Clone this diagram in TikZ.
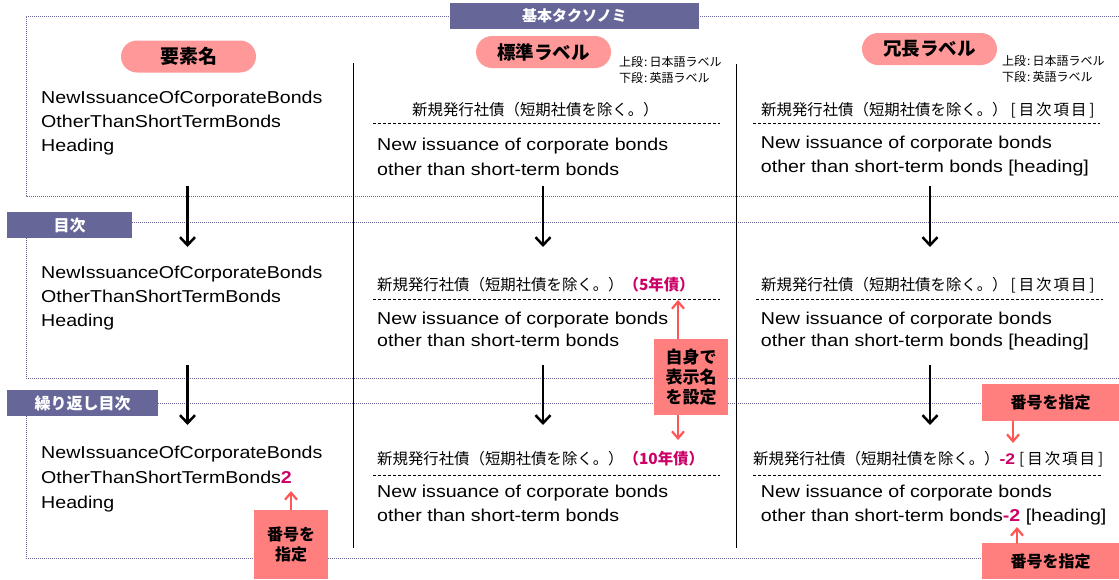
\documentclass[tikz,border=0pt]{standalone}
\usepackage{fontspec}
\setmainfont{Liberation Sans}[FakeStretch=1.14]
\newfontfamily\jpfont{Noto Sans CJK JP}
\usepackage{xcolor}
\usetikzlibrary{arrows.meta, positioning}

\definecolor{hdrblue}{HTML}{666699}
\definecolor{pillpink}{HTML}{FF9999}
\definecolor{calloutred}{HTML}{FF7F7F}
\definecolor{callarrow}{HTML}{FF5555}
\definecolor{accent}{HTML}{CC0066}

\newcommand{\accnum}[1]{{\normalfont\bfseries\color{accent}#1}}
\newcommand{\tocitem}{[\kern3pt 目\kern2pt 次\kern2pt 項\kern2pt 目\kern3pt]}

\begin{document}
\begin{tikzpicture}[x=1pt, y=-1pt,
    sechead/.style={fill=hdrblue, text=white, inner sep=0pt, minimum height=26pt,
                    font={\jpfont\bfseries\fontsize{16}{18}\selectfont}},
    pill/.style={fill=pillpink, rounded corners=16pt, inner sep=0pt,
                 minimum width=135pt, minimum height=32pt,
                 font={\jpfont\bfseries\fontsize{18.5}{20}\selectfont}},
    entxt/.style={anchor=base west, align=left, inner sep=0pt,
                  font={\fontsize{17.2}{24.3}\selectfont}},
    jptxt/.style={anchor=base west, inner sep=0pt,
                  font={\jpfont\fontsize{15.4}{18}\selectfont}},
    note/.style={anchor=base west, align=left, inner sep=0pt,
                 font={\jpfont\fontsize{12}{16.3}\selectfont}},
    callout/.style={fill=calloutred, align=center, inner sep=0pt,
                    font={\jpfont\bfseries\fontsize{16}{20}\selectfont}},
    secline/.style={draw=hdrblue, line width=1pt, dash pattern=on 1pt off 1pt},
    sepline/.style={line width=0.8pt},
    dashln/.style={line width=0.6pt, dash pattern=on 3pt off 2pt},
    arr/.style={-{Straight Barb[length=8pt, width=15pt]}, line width=2.5pt},
    carr/.style={-{Straight Barb[length=7pt, width=12pt]}, line width=2.2pt, draw=callarrow},
  ]
  \useasboundingbox (0,0) rectangle (1119,579);

  % sections
  \draw[secline] (1119,16) -- (26,16) -- (26,196) -- (1119,196);
  \draw[secline] (1119,222) -- (132,222);
  \draw[secline] (26,238) -- (26,378) -- (1119,378);
  \draw[secline] (1119,403) -- (158,403);
  \draw[secline] (26,416) -- (26,558) -- (1119,558);
  \node[sechead, minimum width=249pt, font={\jpfont\bfseries\fontsize{15}{18}\selectfont}]
    (kihon) at (574.5,16) {基本タクソノミ};
  \node[sechead, minimum width=125pt] (mokuji) at (69.5,225) {目次};
  \node[sechead, minimum width=151pt] (kurikaeshi) at (82.5,403) {繰り返し目次};

  % column separators
  \draw[sepline] (353,63) -- (353,548);
  \draw[sepline] (736,64) -- (736,548);

  % column heads
  \node[pill, font={\jpfont\bfseries\fontsize{19}{20}\selectfont}] (yoso) at (188.5,56.5) {要素名};
  \node[pill] (hyojun) at (543.5,52) {標準ラベル};
  \node[pill] (jocho) at (929.5,49) {冗長ラベル};
  \node[note] (notem) at (619,82.8) {上段\kern1pt:\kern2pt 日本語ラベル\\下段\kern1pt:\kern2pt 英語ラベル};
  \node[note] (noter) at (1002,81.8) {上段\kern1pt:\kern2pt 日本語ラベル\\下段\kern1pt:\kern2pt 英語ラベル};

  % element names (anchor on last baseline)
  \node[entxt] (el1) at (41,151.9) {NewIssuanceOfCorporateBonds\\OtherThanShortTermBonds\\Heading};
  \node[entxt] (el2) at (41,326.9) {NewIssuanceOfCorporateBonds\\OtherThanShortTermBonds\\Heading};
  \node[entxt, font={\fontsize{17.2}{25}\selectfont}] (el3) at (41,508.3)
    {NewIssuanceOfCorporateBonds\\OtherThanShortTermBonds\accnum{2}\\Heading};

  % standard labels
  \node[jptxt] (mj1) at (412,115.5) {新規発行社債（短期社債を除く。）};
  \draw[dashln] (373,123) -- (720,123);
  \node[entxt] (me1) at (377,175) {New issuance of corporate bonds\\other than short-term bonds};
  \node[jptxt] (mj2) at (377,290) {新規発行社債（短期社債を除く。）{\bfseries\color{accent}（5年債）}};
  \draw[dashln] (373,299.3) -- (720,299.3);
  \node[entxt, font={\fontsize{17.2}{22.7}\selectfont}] (me2) at (377,346.7)
    {New issuance of corporate bonds\\other than short-term bonds};
  \node[jptxt] (mj3) at (377,464) {新規発行社債（短期社債を除く。）{\bfseries\color{accent}（10年債）}};
  \draw[dashln] (373,475) -- (720,475);
  \node[entxt] (me3) at (377,521.6) {New issuance of corporate bonds\\other than short-term bonds};

  % verbose labels
  \node[jptxt] (rj1) at (761,115.5) {新規発行社債（短期社債を除く。）\kern3pt\tocitem};
  \draw[dashln] (753,123) -- (1100,123);
  \node[entxt] (re1) at (760.7,172.6) {New issuance of corporate bonds\\other than short-term bonds [heading]};
  \node[jptxt] (rj2) at (761,290) {新規発行社債（短期社債を除く。）\kern3pt\tocitem};
  \draw[dashln] (756,299.3) -- (1103,299.3);
  \node[entxt, font={\fontsize{17.2}{22.7}\selectfont}] (re2) at (760.7,346.7)
    {New issuance of corporate bonds\\other than short-term bonds [heading]};
  \node[jptxt] (rj3) at (753,464) {新規発行社債（短期社債を除く。）\accnum{-2}\kern4pt\tocitem};
  \draw[dashln] (753,475) -- (1103,475);
  \node[entxt] (re3) at (760.7,521.6) {New issuance of corporate bonds\\other than short-term bonds\accnum{-2} [heading]};

  % flow arrows
  \foreach \n/\x in {l/187.5, m/543, r/930}{
    \coordinate (\n a) at (\x,186);
    \coordinate (\n b) at (\x,247);
    \coordinate (\n c) at (\x,365);
    \coordinate (\n d) at (\x,425);
  }
  \foreach \n in {l,m,r}{
    \draw[arr] (\n a) -- (\n b);
    \draw[arr] (\n c) -- (\n d);
  }

  % callouts
  \node[callout, minimum width=74pt, minimum height=69pt] (numleft) at (291,544.5) {番号を\\指定};
  \coordinate (numleftt) at (291,491);
  \draw[carr] (numleft) -- (numleftt);

  \node[callout, minimum width=74pt, minimum height=76pt,
        font={\jpfont\bfseries\fontsize{17}{20}\selectfont}] (selfname) at (691,377) {自身で\\表示名\\を設定};
  \coordinate (selfup) at (678,300);
  \coordinate (selfdown) at (678,440);
  \draw[carr] (selfname.north -| selfup) -- (selfup);
  \draw[carr] (selfname.south -| selfdown) -- (selfdown);

  \node[callout, minimum width=137pt, minimum height=37pt] (numtop) at (1050.5,402.5) {番号を指定};
  \coordinate (numtopt) at (1013,443);
  \draw[carr] (numtop.south -| numtopt) -- (numtopt);

  \node[callout, minimum width=137pt, minimum height=36pt] (numbot) at (1050.5,561) {番号を指定};
  \coordinate (numbott) at (1017,527);
  \draw[carr] (numbot.north -| numbott) -- (numbott);
\end{tikzpicture}
\end{document}
